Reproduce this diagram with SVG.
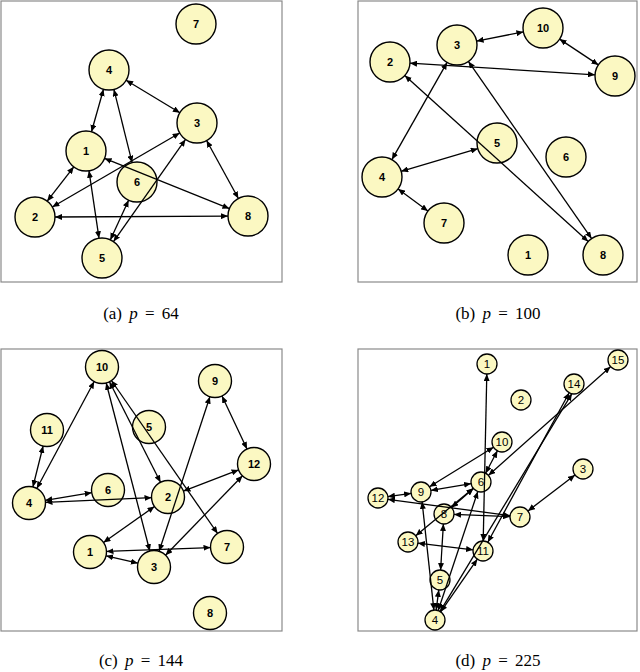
<svg xmlns="http://www.w3.org/2000/svg" width="640" height="672" viewBox="0 0 640 672">
<style>
.frame{fill:#fff;stroke:#8a8a8a;stroke-width:1.2}
.n circle{fill:#fbf8c2;stroke:#000;stroke-width:1.4}
.n text{font-family:"Liberation Sans",Arial,sans-serif;font-size:11px;font-weight:bold;text-anchor:middle;dominant-baseline:central;fill:#000}
.d circle{stroke-width:1.3}
.d text{font-weight:normal;font-size:11.5px}
.e line{stroke:#000;stroke-width:1.3;marker-start:url(#ah);marker-end:url(#ah)}
.cap{font-family:"Liberation Serif","Times New Roman",serif;font-size:17px;word-spacing:3px;text-anchor:middle;fill:#000}
</style>
<defs>
<marker id="ah" markerUnits="userSpaceOnUse" markerWidth="7" markerHeight="6" viewBox="0 0 7 6" refX="7" refY="3" orient="auto-start-reverse">
<path d="M0,0 L7,3 L0,6 z" fill="#000"/>
</marker>
</defs>
<rect width="640" height="672" fill="#fff"/>

<!-- Panel a -->
<rect class="frame" x="1" y="1" width="281" height="281"/>
<g id="a-n7" class="n"><circle cx="196" cy="24" r="20"/><text x="196" y="24">7</text></g>
<g id="a-n4" class="n"><circle cx="109" cy="70" r="20"/><text x="109" y="70">4</text></g>
<g id="a-n3" class="n"><circle cx="197" cy="123" r="20"/><text x="197" y="123">3</text></g>
<g id="a-n1" class="n"><circle cx="86" cy="151" r="20"/><text x="86" y="151">1</text></g>
<g id="a-n6" class="n"><circle cx="137" cy="182" r="20"/><text x="137" y="182">6</text></g>
<g id="a-n2" class="n"><circle cx="35" cy="217" r="20"/><text x="35" y="217">2</text></g>
<g id="a-n8" class="n"><circle cx="248" cy="216" r="20"/><text x="248" y="216">8</text></g>
<g id="a-n5" class="n"><circle cx="102" cy="258" r="20"/><text x="102" y="258">5</text></g>
<g id="a-edges" class="e">
<line x1="126.1" y1="80.3" x2="179.9" y2="112.7"/>
<line x1="103.5" y1="89.2" x2="91.5" y2="131.8"/>
<line x1="132.1" y1="162.6" x2="113.9" y2="89.4"/>
<line x1="104.6" y1="158.4" x2="229.4" y2="208.6"/>
<line x1="73.8" y1="166.8" x2="47.2" y2="201.2"/>
<line x1="89" y1="170.8" x2="99" y2="238.2"/>
<line x1="52.3" y1="207" x2="179.7" y2="133"/>
<line x1="110.4" y1="239.8" x2="128.6" y2="200.2"/>
<line x1="113.5" y1="241.6" x2="185.5" y2="139.4"/>
<line x1="206.6" y1="140.5" x2="238.4" y2="198.5"/>
<line x1="55" y1="217" x2="228" y2="216.1"/>
</g>
<text class="cap" x="141" y="319">(a) <tspan font-style="italic">p</tspan> = 64</text>

<!-- Panel b -->
<rect class="frame" x="358" y="1" width="279" height="281"/>
<g id="b-n10" class="n"><circle cx="543" cy="28" r="20"/><text x="543" y="28">10</text></g>
<g id="b-n3" class="n"><circle cx="457" cy="45" r="20"/><text x="457" y="45">3</text></g>
<g id="b-n2" class="n"><circle cx="390" cy="62" r="20"/><text x="390" y="62">2</text></g>
<g id="b-n9" class="n"><circle cx="615" cy="76" r="20"/><text x="615" y="76">9</text></g>
<g id="b-n5" class="n"><circle cx="497" cy="143" r="20"/><text x="497" y="143">5</text></g>
<g id="b-n6" class="n"><circle cx="566" cy="157" r="20"/><text x="566" y="157">6</text></g>
<g id="b-n4" class="n"><circle cx="382" cy="177" r="20"/><text x="382" y="177">4</text></g>
<g id="b-n7" class="n"><circle cx="444" cy="223" r="20"/><text x="444" y="223">7</text></g>
<g id="b-n1" class="n"><circle cx="528" cy="255" r="20"/><text x="528" y="255">1</text></g>
<g id="b-n8" class="n"><circle cx="603" cy="255" r="20"/><text x="603" y="255">8</text></g>
<g id="b-edges" class="e">
<line x1="476.6" y1="41.1" x2="523.4" y2="31.9"/>
<line x1="559.6" y1="39.1" x2="598.4" y2="64.9"/>
<line x1="410" y1="63.2" x2="595" y2="74.8"/>
<line x1="447.1" y1="62.4" x2="391.9" y2="159.6"/>
<line x1="468.4" y1="61.4" x2="591.6" y2="238.6"/>
<line x1="404.8" y1="75.4" x2="588.2" y2="241.6"/>
<line x1="401.2" y1="171.3" x2="477.8" y2="148.7"/>
<line x1="398.1" y1="188.9" x2="427.9" y2="211.1"/>
</g>
<text class="cap" x="498" y="319">(b) <tspan font-style="italic">p</tspan> = 100</text>

<!-- Panel c -->
<rect class="frame" x="1" y="349" width="281" height="282"/>
<g id="c-n10" class="n"><circle cx="102" cy="367" r="16.5"/><text x="102" y="367">10</text></g>
<g id="c-n9" class="n"><circle cx="215" cy="381" r="16.5"/><text x="215" y="381">9</text></g>
<g id="c-n11" class="n"><circle cx="47" cy="430" r="16.5"/><text x="47" y="430">11</text></g>
<g id="c-n5" class="n"><circle cx="149" cy="427" r="16.5"/><text x="149" y="427">5</text></g>
<g id="c-n12" class="n"><circle cx="254" cy="464" r="16.5"/><text x="254" y="464">12</text></g>
<g id="c-n6" class="n"><circle cx="108" cy="490" r="16.5"/><text x="108" y="490">6</text></g>
<g id="c-n2" class="n"><circle cx="168" cy="497" r="16.5"/><text x="168" y="497">2</text></g>
<g id="c-n4" class="n"><circle cx="29" cy="503" r="16.5"/><text x="29" y="503">4</text></g>
<g id="c-n1" class="n"><circle cx="90" cy="552" r="16.5"/><text x="90" y="552">1</text></g>
<g id="c-n7" class="n"><circle cx="227" cy="547" r="16.5"/><text x="227" y="547">7</text></g>
<g id="c-n3" class="n"><circle cx="154" cy="567" r="16.5"/><text x="154" y="567">3</text></g>
<g id="c-n8" class="n"><circle cx="210" cy="613" r="16.5"/><text x="210" y="613">8</text></g>
<g id="c-edges" class="e">
<line x1="94.2" y1="381.5" x2="36.8" y2="488.5"/>
<line x1="43.1" y1="446" x2="32.9" y2="487"/>
<line x1="109.5" y1="381.7" x2="160.5" y2="482.3"/>
<line x1="106.2" y1="383" x2="149.8" y2="551"/>
<line x1="111.4" y1="380.5" x2="217.6" y2="533.5"/>
<line x1="222" y1="396" x2="247" y2="449"/>
<line x1="45.3" y1="500.3" x2="91.7" y2="492.7"/>
<line x1="45.5" y1="502.3" x2="151.5" y2="497.7"/>
<line x1="183.4" y1="491.1" x2="238.6" y2="469.9"/>
<line x1="154.5" y1="506.5" x2="103.5" y2="542.5"/>
<line x1="159.1" y1="551.3" x2="209.9" y2="396.7"/>
<line x1="165.5" y1="555.2" x2="242.5" y2="475.8"/>
<line x1="106.5" y1="551.4" x2="210.5" y2="547.6"/>
<line x1="106.1" y1="555.8" x2="137.9" y2="563.2"/>
</g>
<text class="cap" x="141" y="666">(c) <tspan font-style="italic">p</tspan> = 144</text>

<!-- Panel d -->
<rect class="frame" x="358" y="349" width="279" height="282"/>
<g id="d-n1" class="n d"><circle cx="487" cy="364" r="10"/><text x="487" y="364">1</text></g>
<g id="d-n15" class="n d"><circle cx="618" cy="360" r="10"/><text x="618" y="360">15</text></g>
<g id="d-n14" class="n d"><circle cx="574" cy="384" r="10"/><text x="574" y="384">14</text></g>
<g id="d-n2" class="n d"><circle cx="521" cy="400" r="10"/><text x="521" y="400">2</text></g>
<g id="d-n10" class="n d"><circle cx="502" cy="442" r="10"/><text x="502" y="442">10</text></g>
<g id="d-n3" class="n d"><circle cx="583" cy="469" r="10"/><text x="583" y="469">3</text></g>
<g id="d-n6" class="n d"><circle cx="481" cy="482" r="10"/><text x="481" y="482">6</text></g>
<g id="d-n9" class="n d"><circle cx="421" cy="492" r="10"/><text x="421" y="492">9</text></g>
<g id="d-n12" class="n d"><circle cx="378" cy="498" r="10"/><text x="378" y="498">12</text></g>
<g id="d-n8" class="n d"><circle cx="444" cy="514" r="10"/><text x="444" y="514">8</text></g>
<g id="d-n7" class="n d"><circle cx="520" cy="517" r="10"/><text x="520" y="517">7</text></g>
<g id="d-n13" class="n d"><circle cx="408" cy="542" r="10"/><text x="408" y="542">13</text></g>
<g id="d-n11" class="n d"><circle cx="483" cy="551" r="10"/><text x="483" y="551">11</text></g>
<g id="d-n5" class="n d"><circle cx="440" cy="580" r="10"/><text x="440" y="580">5</text></g>
<g id="d-n4" class="n d"><circle cx="435" cy="620" r="10"/><text x="435" y="620">4</text></g>
<g id="d-edges" class="e">
<line x1="483.2" y1="541" x2="486.8" y2="374"/>
<line x1="610.5" y1="366.7" x2="488.5" y2="475.3"/>
<line x1="569.2" y1="392.8" x2="487.8" y2="542.2"/>
<line x1="571.9" y1="393.6" x2="440.1" y2="611.4"/>
<line x1="485.6" y1="473.2" x2="497.4" y2="450.8"/>
<line x1="429.5" y1="486.8" x2="493.5" y2="447.2"/>
<line x1="430.9" y1="490.4" x2="471.1" y2="483.6"/>
<line x1="411.1" y1="493.4" x2="387.9" y2="496.6"/>
<line x1="387.9" y1="499.3" x2="510.1" y2="515.7"/>
<line x1="451.6" y1="507.5" x2="473.4" y2="488.5"/>
<line x1="415.7" y1="535.7" x2="473.3" y2="488.3"/>
<line x1="454" y1="514.4" x2="510" y2="516.6"/>
<line x1="443.4" y1="524" x2="440.6" y2="570"/>
<line x1="417.9" y1="543.2" x2="473.1" y2="549.8"/>
<line x1="422.1" y1="501.9" x2="433.9" y2="610.1"/>
<line x1="477.8" y1="491.5" x2="438.2" y2="610.5"/>
<line x1="438.8" y1="589.9" x2="436.2" y2="610.1"/>
<line x1="575" y1="475.1" x2="528" y2="510.9"/>
<line x1="440.7" y1="611.8" x2="477.3" y2="559.2"/>
</g>
<text class="cap" x="498" y="666">(d) <tspan font-style="italic">p</tspan> = 225</text>
</svg>
